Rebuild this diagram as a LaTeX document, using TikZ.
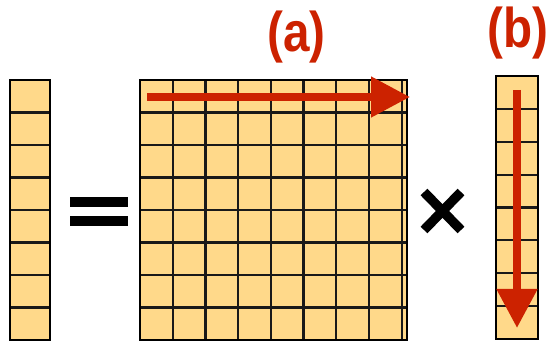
\documentclass[tikz,border=0pt]{standalone}
\usepackage{fontspec}
\setmainfont{Liberation Sans}
\usetikzlibrary{arrows.meta}
\definecolor{cellfill}{RGB}{255,217,138}
\definecolor{arrowred}{RGB}{204,34,0}
\tikzset{
  cellline/.style={draw=black!90, line width=2.2pt},
  outerline/.style={draw=black, line width=2.8pt},
  bigarrow/.style={draw=arrowred, line width=8pt, -{Triangle[length=39pt,width=39pt]}},
  lbl/.style={text=arrowred, font=\fontsize{56}{56}\selectfont\bfseries, inner sep=0pt, xscale=0.85},
  opbar/.style={fill=black, draw=none}
}
\begin{document}
\begin{tikzpicture}[x=1pt,y=-1pt]
\useasboundingbox (0,0) rectangle (549,344);
% left vector
\fill[cellfill] (10,80) rectangle (50,340);
\foreach \i in {1,...,7} \draw[cellline] (10,80+\i*32.5) -- (50,80+\i*32.5);
\draw[outerline] (10,80) rectangle (50,340);
% equals
\fill[opbar] (70,197.5) rectangle (128,207);
\fill[opbar] (70,216.5) rectangle (128,226);
% matrix
\fill[cellfill] (140,80) rectangle (407,340);
\foreach \i in {1,...,7} \draw[cellline] (140,80+\i*32.5) -- (407,80+\i*32.5);
\foreach \j in {1,...,8} \draw[cellline] (140+\j*32.7,80) -- (140+\j*32.7,340);
\draw[outerline] (140,80) rectangle (407,340);
% times
\draw[line width=9.5pt] (424,192) -- (461,230);
\draw[line width=9.5pt] (424,230) -- (461,192);
% right vector
\fill[cellfill] (496,76) rectangle (538,339);
\foreach \i in {1,...,7} \draw[cellline] (496,76+\i*32.875) -- (538,76+\i*32.875);
\draw[outerline] (496,76) rectangle (538,339);
% arrows
\coordinate (a0) at (147,97);
\coordinate (a1) at (410,97);
\draw[bigarrow] (a0) -- (a1);
\coordinate (b0) at (517,90);
\coordinate (b1) at (517,328);
\draw[bigarrow] (b0) -- (b1);
% labels
\node[lbl] (la) at (296.5,37) {(a)};
\node[lbl] (lb) at (518,33) {(b)};
\end{tikzpicture}
\end{document}
